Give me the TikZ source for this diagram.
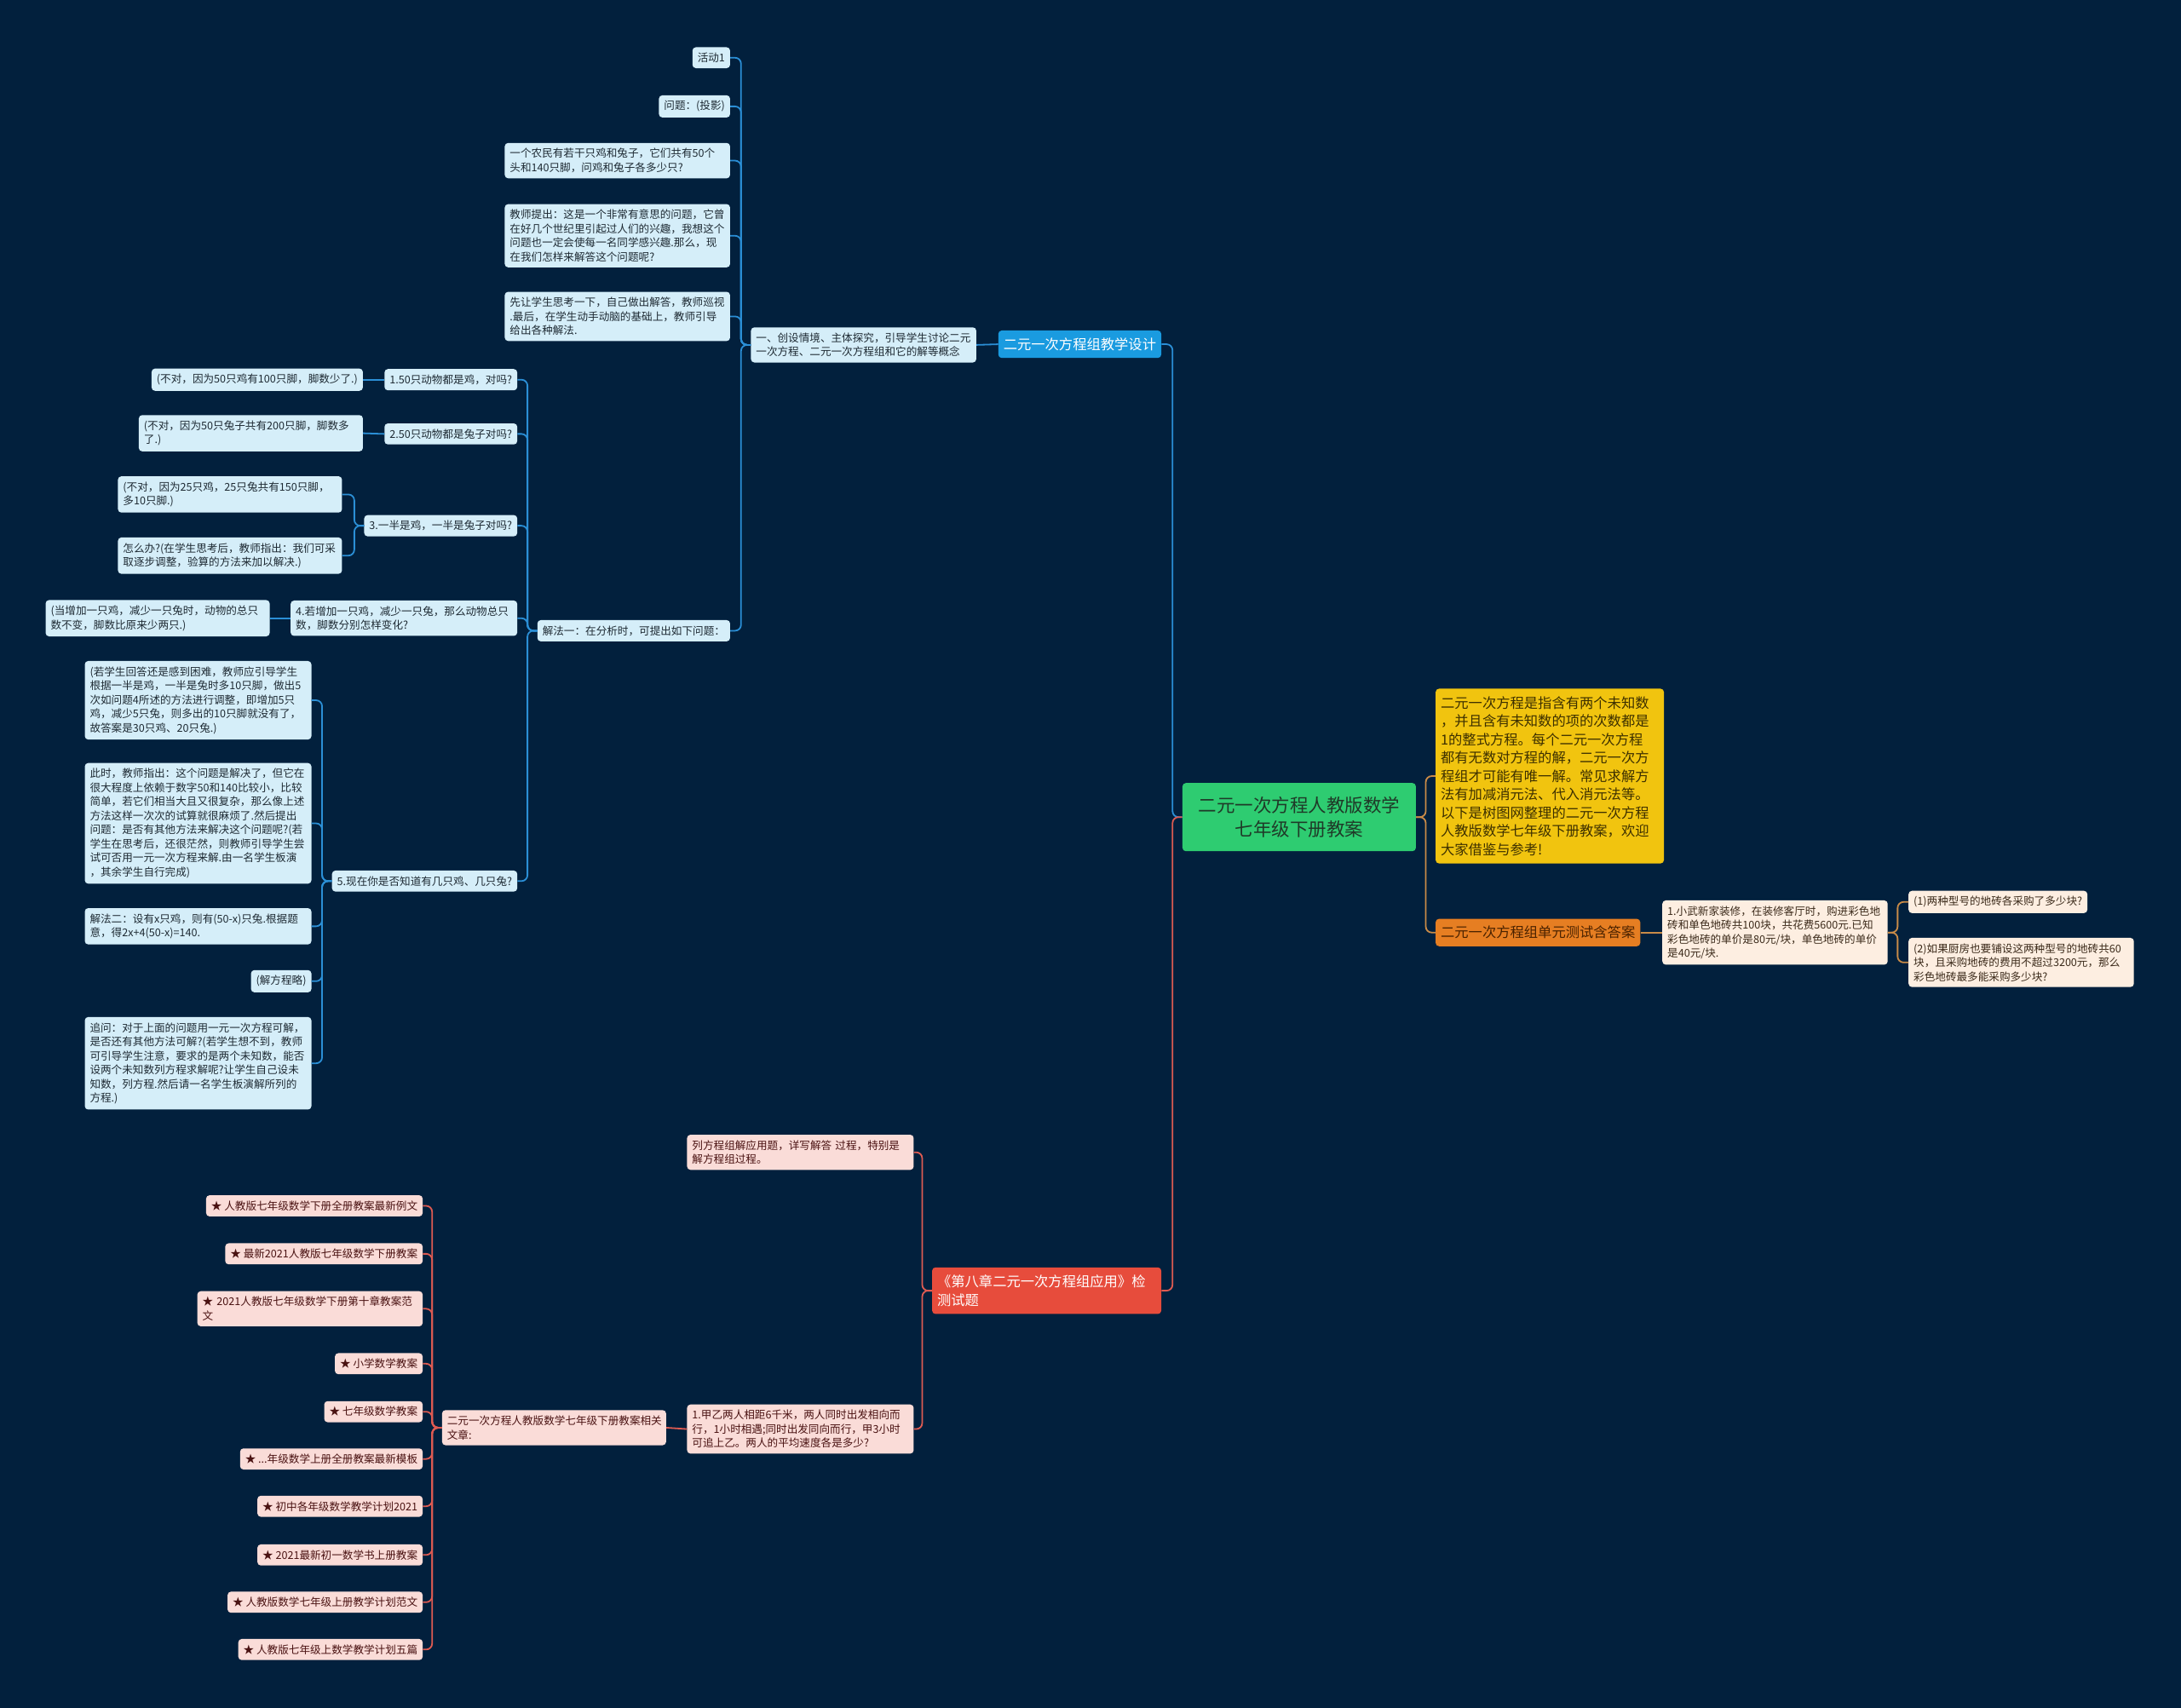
\documentclass[tikz,border=0pt]{standalone}
\usepackage{fontspec}
\setmainfont{Noto Sans CJK SC}
\definecolor{bg}{HTML}{02203D}
\definecolor{lblue}{HTML}{D5EEF9}
\definecolor{bluel}{HTML}{2B8FD6}
\definecolor{bluehd}{HTML}{1A9BE0}
\definecolor{rootg}{HTML}{2ECC71}
\definecolor{roott}{HTML}{1F3A28}
\definecolor{yel}{HTML}{F1C40F}
\definecolor{yelt}{HTML}{3D3000}
\definecolor{org}{HTML}{E67E22}
\definecolor{orgt}{HTML}{4A2200}
\definecolor{orgl}{HTML}{C98B48}
\definecolor{beige}{HTML}{FDEEE1}
\definecolor{etext}{HTML}{3B2A1A}
\definecolor{redh}{HTML}{E74C3C}
\definecolor{redl}{HTML}{DE5B52}
\definecolor{pink}{HTML}{FADCD8}
\definecolor{ptext}{HTML}{4A1212}
\definecolor{dtext}{HTML}{1E2A33}
\begin{document}
\begin{tikzpicture}[x=1.6327pt,y=-1.6327pt,
 base/.style={rounded corners=4pt, inner xsep=6pt, inner ysep=6.5pt, font=\fontsize{12.6}{16.5}\selectfont, align=left},
 bn/.style={base, fill=lblue, text=dtext},
 pn/.style={base, fill=pink, text=ptext},
 en/.style={base, fill=beige, text=etext},
 hd/.style={rounded corners=4pt, inner xsep=6pt, inner ysep=8.5pt, font=\fontsize{16.3}{21.5}\selectfont, align=left},
 link/.style={line width=1.8pt, rounded corners=7pt},
 le/.style={anchor=east}, ri/.style={anchor=west}]
\fill[bg] (0,0) rectangle (1568,1228);
\useasboundingbox (0,0) rectangle (1568,1228);

% root
\node[rounded corners=4pt, fill=rootg, text=roott, minimum width=274pt, minimum height=80pt, align=center, font=\fontsize{21.5}{28}\selectfont] (root) at (934,587.5) {二元一次方程人教版数学\\七年级下册教案};

% right side
\node[hd, ri, fill=yel, text=yelt, text width=256pt, inner ysep=9pt] (yel) at (1032,558) {二元一次方程是指含有两个未知数\\，并且含有未知数的项的次数都是\\1的整式方程。每个二元一次方程\\都有无数对方程的解，二元一次方\\程组才可能有唯一解。常见求解方\\法有加减消元法、代入消元法等。\\以下是树图网整理的二元一次方程\\人教版数学七年级下册教案，欢迎\\大家借鉴与参考!};
\node[hd, ri, fill=org, text=orgt] (org) at (1032,670.5) {二元一次方程组单元测试含答案};
\node[en, ri, text width=252.5pt] (r1) at (1195,670.5) {1.小武新家装修，在装修客厅时，购进彩色地\\砖和单色地砖共100块，共花费5600元.已知\\彩色地砖的单价是80元/块，单色地砖的单价\\是40元/块.};
\node[en, ri] (r2) at (1372,648.5) {(1)两种型号的地砖各采购了多少块?};
\node[en, ri, text width=252.5pt] (r3) at (1372,692) {(2)如果厨房也要铺设这两种型号的地砖共60\\块，且采购地砖的费用不超过3200元，那么\\彩色地砖最多能采购多少块?};

% blue branch
\node[hd, le, fill=bluehd, text=white] (bh) at (835,247.5) {二元一次方程组教学设计};
\node[bn, le, text width=252.5pt] (b1) at (702,248) {一、创设情境、主体探究，引导学生讨论二元\\一次方程、二元一次方程组和它的解等概念};
\node[bn, le] (a1) at (525,41.5) {活动1};
\node[bn, le] (a2) at (525,76.5) {问题：(投影)};
\node[bn, le, text width=252.5pt] (a3) at (525,115.5) {一个农民有若干只鸡和兔子，它们共有50个\\头和140只脚，问鸡和兔子各多少只?};
\node[bn, le, text width=252.5pt] (a4) at (525,169.5) {教师提出：这是一个非常有意思的问题，它曾\\在好几个世纪里引起过人们的兴趣，我想这个\\问题也一定会使每一名同学感兴趣.那么，现\\在我们怎样来解答这个问题呢?};
\node[bn, le, text width=252.5pt] (a5) at (525,227.5) {先让学生思考一下，自己做出解答，教师巡视\\.最后，在学生动手动脑的基础上，教师引导\\给出各种解法.};
\node[bn, le] (a6) at (525,453.5) {解法一：在分析时，可提出如下问题：};

\node[bn, le] (q1) at (372,273) {1.50只动物都是鸡，对吗?};
\node[bn, le] (q1a) at (261,273) {(不对，因为50只鸡有100只脚，脚数少了.)};
\node[bn, le] (q2) at (372,312) {2.50只动物都是兔子对吗?};
\node[bn, le, text width=251pt] (q2a) at (261,311.5) {(不对，因为50只兔子共有200只脚，脚数多\\了.)};
\node[bn, le] (q3) at (372,378) {3.一半是鸡，一半是兔子对吗?};
\node[bn, le, text width=251pt] (q3a) at (246,355.5) {(不对，因为25只鸡，25只兔共有150只脚，\\多10只脚.)};
\node[bn, le, text width=251pt] (q3b) at (246,399.5) {怎么办?(在学生思考后，教师指出：我们可采\\取逐步调整，验算的方法来加以解决.)};
\node[bn, le, text width=254pt] (q4) at (372,444.5) {4.若增加一只鸡，减少一只兔，那么动物总只\\数，脚数分别怎样变化?};
\node[bn, le, text width=251pt] (q4a) at (194,444.5) {(当增加一只鸡，减少一只兔时，动物的总只\\数不变，脚数比原来少两只.)};
\node[bn, le] (q5) at (372,633.5) {5.现在你是否知道有几只鸡、几只兔?};
\node[bn, le, text width=254pt] (q5a) at (224,503.5) {(若学生回答还是感到困难，教师应引导学生\\根据一半是鸡，一半是兔时多10只脚，做出5\\次如问题4所述的方法进行调整，即增加5只\\鸡，减少5只兔，则多出的10只脚就没有了，\\故答案是30只鸡、20只兔.)};
\node[bn, le, text width=254pt] (q5b) at (224,592) {此时，教师指出：这个问题是解决了，但它在\\很大程度上依赖于数字50和140比较小，比较\\简单，若它们相当大且又很复杂，那么像上述\\方法这样一次次的试算就很麻烦了.然后提出\\问题：是否有其他方法来解决这个问题呢?(若\\学生在思考后，还很茫然，则教师引导学生尝\\试可否用一元一次方程来解.由一名学生板演\\，其余学生自行完成)};
\node[bn, le, text width=254pt] (q5c) at (224,666) {解法二：设有x只鸡，则有(50-x)只兔.根据题\\意，得2x+4(50-x)=140.};
\node[bn, le] (q5d) at (224,705.5) {(解方程略)};
\node[bn, le, text width=254pt] (q5e) at (224,764.5) {追问：对于上面的问题用一元一次方程可解，\\是否还有其他方法可解?(若学生想不到，教师\\可引导学生注意，要求的是两个未知数，能否\\设两个未知数列方程求解呢?让学生自己设未\\知数，列方程.然后请一名学生板演解所列的\\方程.)};

% red branch
\node[hd, le, fill=redh, text=white, text width=257pt, inner ysep=9pt] (rh) at (835,928) {《第八章二元一次方程组应用》检\\测试题};
\node[pn, le, text width=254pt] (rc1) at (657,828.5) {列方程组解应用题，详写解答 过程，特别是\\解方程组过程。};
\node[pn, le, text width=254pt] (rc2) at (657,1027.5) {1.甲乙两人相距6千米，两人同时出发相向而\\行，1小时相遇;同时出发同向而行，甲3小时\\可追上乙。两人的平均速度各是多少?};
\node[pn, le, text width=251pt] (rc3) at (479,1026.5) {二元一次方程人教版数学七年级下册教案相关\\文章:};
\node[pn, le] (s1) at (304,867) {★ 人教版七年级数学下册全册教案最新例文};
\node[pn, le] (s2) at (304,901.5) {★ 最新2021人教版七年级数学下册教案};
\node[pn, le, text width=252.5pt] (s3) at (304,941) {★ 2021人教版七年级数学下册第十章教案范\\文};
\node[pn, le] (s4) at (304,980.5) {★ 小学数学教案};
\node[pn, le] (s5) at (304,1015) {★ 七年级数学教案};
\node[pn, le] (s6) at (304,1049) {★ ...年级数学上册全册教案最新模板};
\node[pn, le] (s7) at (304,1083) {★ 初中各年级数学教学计划2021};
\node[pn, le] (s8) at (304,1118) {★ 2021最新初一数学书上册教案};
\node[pn, le] (s9) at (304,1152) {★ 人教版数学七年级上册教学计划范文};
\node[pn, le] (s10) at (304,1186) {★ 人教版七年级上数学教学计划五篇};

% connectors
\begin{scope}[on background layer/.style={}]
\draw[link,bluel] (root.west) -- ++(-7,0) |- (bh.east);
\draw[link,redl] (root.west) -- ++(-7,0) |- (rh.east);
\foreach \c in {yel,org} \draw[link,orgl] (root.east) -- ++(7,0) |- (\c.west);
\draw[link,orgl] (org.east) -- (r1.west);
\foreach \c in {r2,r3} \draw[link,orgl] (r1.east) -- ++(7,0) |- (\c.west);
\draw[link,bluel] (bh.west) -- (b1.east);
\foreach \c in {a1,a2,a3,a4,a5,a6} \draw[link,bluel] (b1.west) -- ++(-7,0) |- (\c.east);
\foreach \c in {q1,q2,q3,q4,q5} \draw[link,bluel] (a6.west) -- ++(-7,0) |- (\c.east);
\draw[link,bluel] (q1.west) -- (q1a.east);
\draw[link,bluel] (q2.west) -- (q2a.east);
\foreach \c in {q3a,q3b} \draw[link,bluel] (q3.west) -- ++(-7,0) |- (\c.east);
\draw[link,bluel] (q4.west) -- (q4a.east);
\foreach \c in {q5a,q5b,q5c,q5d,q5e} \draw[link,bluel] (q5.west) -- ++(-7,0) |- (\c.east);
\foreach \c in {rc1,rc2} \draw[link,redl] (rh.west) -- ++(-7,0) |- (\c.east);
\draw[link,redl] (rc2.west) -- (rc3.east);
\foreach \c in {s1,s2,s3,s4,s5,s6,s7,s8,s9,s10} \draw[link,redl] (rc3.west) -- ++(-7,0) |- (\c.east);
\end{scope}
\end{tikzpicture}
\end{document}
